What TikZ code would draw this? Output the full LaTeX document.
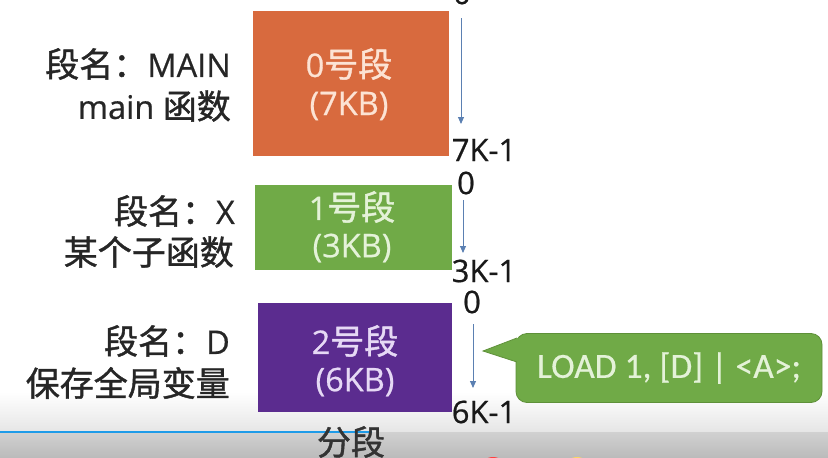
\documentclass[tikz,border=0pt]{standalone}
\usepackage{fontspec}
\setmainfont{Open Sans}[FakeBold=0.6]
\newfontfamily\cjk{Noto Sans CJK SC}[FakeBold=1.2]
\newfontfamily\calib{Carlito}[FakeBold=0.5]
\usetikzlibrary{arrows.meta}
\definecolor{corange}{HTML}{D86A3E}
\definecolor{cgreen}{HTML}{70AA47}
\definecolor{cpurple}{HTML}{5B2C8F}
\definecolor{cgreenedge}{HTML}{5E9039}
\definecolor{tpeach}{HTML}{FCE3D4}
\definecolor{tlgreen}{HTML}{E4F2D8}
\definecolor{tlav}{HTML}{E6D9F5}
\definecolor{arrowblue}{HTML}{5B80B2}
\newcommand{\zh}[1]{{\cjk\fontsize{34}{40}\selectfont #1}}
\tikzset{
  big/.style={font=\fontsize{32.5}{38}\selectfont, inner sep=0pt},
  lbl/.style={big, anchor=east, text=black!85},
  num/.style={font=\fontsize{31}{37}\selectfont, inner sep=0pt, text=black!90},
  addr/.style={draw=arrowblue, line width=0.9pt, -{Triangle[length=7pt,width=6pt]}},
}
\begin{document}
\begin{tikzpicture}[x=1pt,y=-1pt]
\useasboundingbox (0,0) rectangle (828,458);
\begin{scope}
\clip (0,0) rectangle (828,458);
% bottom video band
\shade[top color=white, bottom color=black!10] (0,392) rectangle (828,432);
\shade[top color=black!18, bottom color=black!27] (0,432) rectangle (828,458);
\fill[red!75!white] (493,471) circle (14);
\fill[yellow!50!orange!60!white] (577,471) circle (14);
\draw[draw={rgb,255:red,30;green,155;blue,232}, line width=2.5pt] (0,432) -- (372,432);

% segment boxes
\fill[corange] (253,11) rectangle (449,156);
\fill[cgreen] (255,185) rectangle (452,270);
\fill[cpurple] (258,303) rectangle (452,412);

\node[big, text=tpeach] (s0a) at (349,64) {0\zh{号段}};
\node[big, text=tpeach] (s0b) at (349,106) {(7KB)};
\node[big, text=tlgreen] (s1a) at (352,207) {1\zh{号段}};
\node[big, text=tlgreen] (s1b) at (352,248) {(3KB)};
\node[big, text=tlav] (s2a) at (355,341) {2\zh{号段}};
\node[big, text=tlav] (s2b) at (355,382) {(6KB)};

% left labels
\node[lbl] (l0a) at (231,64) {\zh{段名：}MAIN};
\node[lbl] (l0b) at (231,106) {main \zh{函数}};
\node[lbl] (l1a) at (235,211) {\zh{段名：}X};
\node[lbl] (l1b) at (234,252) {\zh{某个子函数}};
\node[lbl] (l2a) at (230,341) {\zh{段名：}D};
\node[lbl] (l2b) at (230,383) {\zh{保存全局变量}};

% address markers
\node[num] (z0) at (462,-7) {0};
\node[num] (e0) at (484,150) {7K-1};
\node[num] (z1) at (466,183) {0};
\node[num] (e1) at (484,271) {3K-1};
\node[num] (z2) at (472,302) {0};
\node[num] (e2) at (484,412) {6K-1};
\coordinate (a0s) at (461,18); \coordinate (a0e) at (461,124);
\coordinate (a1s) at (463,200); \coordinate (a1e) at (463,253);
\coordinate (a2s) at (473,324); \coordinate (a2e) at (473,388);
\draw[addr] (a0s) -- (a0e);
\draw[addr] (a1s) -- (a1e);
\draw[addr] (a2s) -- (a2e);

% callout
\node[draw=cgreenedge, line width=0.8pt, fill=cgreen, rounded corners=11pt,
      minimum width=306pt, minimum height=69pt, inner sep=0pt,
      font=\calib\fontsize{35.5}{40}\selectfont, text=tlgreen] (ld) at (669,368) {LOAD 1, [D] | <A>;};
\coordinate (tip) at (483,351);
\coordinate (b1) at (516.9,338);
\coordinate (b2) at (516.9,362);
\fill[cgreen] (tip) -- (518.5,337.6) -- (518.5,362.4) -- cycle;
\draw[cgreenedge, line width=0.8pt] (b1) -- (tip) -- (b2);

% title
\node[text=black!80, inner sep=0pt] (title) at (351,442) {\zh{分段}};
\end{scope}
\end{tikzpicture}
\end{document}
